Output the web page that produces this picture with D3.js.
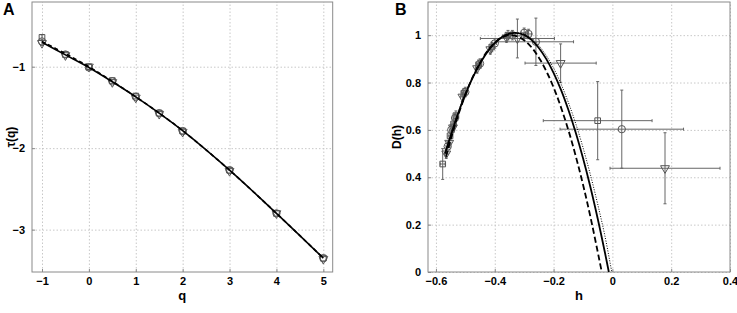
<!DOCTYPE html>
<html>
<head>
<meta charset="utf-8">
<script src="https://cdn.jsdelivr.net/npm/d3@7"></script>
<style>
  body { margin: 0; background: #fff; }
  svg { font-family: "Liberation Sans", Arial, sans-serif; }
  .tick text { font-weight: bold; font-size: 11px; fill: #000; }
  .grid line { stroke: #c8c8c8; stroke-dasharray: 1.5,2; }
  .frame { fill: none; stroke: #8a8a8a; stroke-width: 1; }
</style>
</head>
<body>
<svg width="737" height="313"></svg>
<script>
// ---- panel A: tau(q) ----
var qVals = [-1, -0.5, 0, 0.5, 1, 1.5, 2, 3, 4, 5];
var tauSquares = [-0.64, -0.85, -1.00, -1.17, -1.36, -1.57, -1.79, -2.27, -2.80, -3.35];
var tauCircles = [-0.69, -0.85, -1.01, -1.18, -1.37, -1.57, -1.79, -2.27, -2.80, -3.35];
var tauTriangles = [-0.71, -0.86, -1.00, -1.19, -1.38, -1.58, -1.80, -2.28, -2.80, -3.36];
var tauFitSolid = [-0.70, -0.855, -1.01, -1.185, -1.37, -1.57, -1.785, -2.27, -2.80, -3.35];
var tauFitDashed = [-0.69, -0.84, -1.00, -1.18, -1.37, -1.57, -1.785, -2.27, -2.80, -3.35];
var qTicks = [-1, 0, 1, 2, 3, 4, 5];
var tauTicks = [-3, -2, -1];

// ---- panel B: D(h) ----
var sqH = [-0.577, -0.552, -0.540, -0.532, -0.505, -0.455, -0.410, -0.355, -0.050];
var sqD = [0.456, 0.575, 0.625, 0.660, 0.755, 0.875, 0.950, 1.000, 0.639];
var sqErrH = [0.008, 0.006, 0.006, 0.006, 0.006, 0.006, 0.008, 0.01, 0.185];
var sqErrD = [0.065, 0.02, 0.02, 0.02, 0.02, 0.02, 0.02, 0.02, 0.165];

var ciH = [-0.560, -0.548, -0.535, -0.500, -0.450, -0.400, -0.340, -0.300, -0.285, -0.260, 0.032];
var ciD = [0.530, 0.600, 0.650, 0.760, 0.880, 0.965, 1.000, 1.010, 1.005, 0.972, 0.603];
var ciErrH = [0.006, 0.006, 0.006, 0.006, 0.006, 0.006, 0.008, 0.01, 0.01, 0.128, 0.21];
var ciErrD = [0.02, 0.02, 0.02, 0.02, 0.02, 0.02, 0.02, 0.02, 0.02, 0.10, 0.165];

var trH = [-0.565, -0.555, -0.542, -0.510, -0.460, -0.415, -0.360, -0.323, -0.176, 0.179];
var trD = [0.500, 0.545, 0.610, 0.740, 0.860, 0.940, 0.990, 0.986, 0.882, 0.438];
var trErrH = [0.006, 0.006, 0.006, 0.006, 0.006, 0.006, 0.008, 0.126, 0.121, 0.187];
var trErrD = [0.02, 0.02, 0.02, 0.02, 0.02, 0.02, 0.02, 0.082, 0.081, 0.15];

// fitted spectra
var fitSolidH = [-0.569, -0.55, -0.525, -0.5, -0.475, -0.45, -0.425, -0.4, -0.375, -0.35, -0.33, -0.3, -0.275, -0.25, -0.225, -0.2, -0.175, -0.15, -0.125, -0.1, -0.075, -0.05, -0.025, -0.012];
var fitSolidD = [0.500, 0.574, 0.668, 0.750, 0.821, 0.880, 0.929, 0.966, 0.992, 1.006, 1.010, 1.001, 0.980, 0.946, 0.900, 0.841, 0.770, 0.686, 0.590, 0.481, 0.360, 0.226, 0.080, 0.000];
var fitDashH = [-0.566, -0.55, -0.525, -0.5, -0.475, -0.45, -0.425, -0.4, -0.375, -0.345, -0.32, -0.295, -0.27, -0.245, -0.22, -0.195, -0.17, -0.145, -0.12, -0.095, -0.07, -0.045, -0.036];
var fitDashD = [0.487, 0.559, 0.660, 0.748, 0.823, 0.884, 0.933, 0.968, 0.991, 1.000, 0.993, 0.974, 0.941, 0.895, 0.836, 0.764, 0.678, 0.580, 0.468, 0.344, 0.206, 0.055, 0.000];
var fitDotH = [-0.568, -0.55, -0.525, -0.5, -0.475, -0.45, -0.425, -0.4, -0.375, -0.35, -0.325, -0.3, -0.275, -0.25, -0.225, -0.2, -0.175, -0.15, -0.125, -0.1, -0.075, -0.05, -0.025, -0.002];
var fitDotD = [0.505, 0.578, 0.672, 0.754, 0.825, 0.884, 0.932, 0.968, 0.994, 1.007, 1.010, 1.004, 0.986, 0.956, 0.914, 0.861, 0.795, 0.717, 0.628, 0.526, 0.412, 0.287, 0.150, 0.000];
var hTicks = [-0.6, -0.4, -0.2, 0, 0.2, 0.4];
var dTicks = [0, 0.2, 0.4, 0.6, 0.8, 1];

var svg = d3.select("svg");
var markerColor = "#555";

function fmt(d) { return d3.format("")(d).replace("-", "\u2212"); }

function drawPanel(opt) {
  var x = d3.scaleLinear().domain(opt.xDomain).range([opt.left, opt.right]);
  var y = d3.scaleLinear().domain(opt.yDomain).range([opt.bottom, opt.top]);
  var g = svg.append("g");

  // grid
  g.append("g").attr("class", "grid")
    .attr("transform", "translate(0," + opt.bottom + ")")
    .call(d3.axisBottom(x).tickValues(opt.xTicks).tickSize(-(opt.bottom - opt.top)).tickFormat(""))
    .call(s => s.select(".domain").remove());
  g.append("g").attr("class", "grid")
    .attr("transform", "translate(" + opt.left + ",0)")
    .call(d3.axisLeft(y).tickValues(opt.yTicks).tickSize(-(opt.right - opt.left)).tickFormat(""))
    .call(s => s.select(".domain").remove());

  // axes (ticks inward)
  g.append("g")
    .attr("transform", "translate(0," + opt.bottom + ")")
    .call(d3.axisBottom(x).tickValues(opt.xTicks).tickSize(-3).tickPadding(5).tickFormat(fmt))
    .call(s => s.select(".domain").remove())
    .call(s => s.selectAll(".tick line").attr("stroke", "#8a8a8a"));
  g.append("g")
    .attr("transform", "translate(" + opt.left + ",0)")
    .call(d3.axisLeft(y).tickValues(opt.yTicks).tickSize(-3).tickPadding(7).tickFormat(fmt))
    .call(s => s.select(".domain").remove())
    .call(s => s.selectAll(".tick line").attr("stroke", "#8a8a8a"));

  g.append("rect").attr("class", "frame")
    .attr("x", opt.left).attr("y", opt.top)
    .attr("width", opt.right - opt.left).attr("height", opt.bottom - opt.top);

  // labels
  g.append("text").attr("x", (opt.left + opt.right) / 2).attr("y", 300)
    .attr("text-anchor", "middle").attr("font-weight", "bold").attr("font-size", 13).text(opt.xLabel);
  g.append("text").attr("transform", "translate(" + opt.yLabelX + "," + ((opt.top + opt.bottom) / 2) + ") rotate(-90)")
    .attr("text-anchor", "middle").attr("font-weight", "bold").attr("font-size", 12).text(opt.yLabel);
  g.append("text").attr("x", opt.letterX).attr("y", 15)
    .attr("font-weight", "bold").attr("font-size", 16).text(opt.letter);

  return { x: x, y: y, g: g };
}

function drawLine(p, xs, ys, dash, width) {
  var pts = xs.map((v, i) => [v, ys[i]]);
  p.g.append("path")
    .attr("d", d3.line().x(d => p.x(d[0])).y(d => p.y(d[1])).curve(d3.curveCatmullRom)(pts))
    .attr("fill", "none").attr("stroke", "#000")
    .attr("stroke-width", width)
    .attr("stroke-dasharray", dash);
}

function drawMarkers(p, xs, ys, shape, errX, errY) {
  var pts = xs.map((v, i) => ({ x: v, y: ys[i], ex: errX ? errX[i] : 0, ey: errY ? errY[i] : 0 }));
  var eg = p.g.append("g").attr("stroke", "#666").attr("stroke-width", 1);
  pts.forEach(function (d) {
    if (d.ex > 0) {
      eg.append("line").attr("x1", p.x(d.x - d.ex)).attr("x2", p.x(d.x + d.ex)).attr("y1", p.y(d.y)).attr("y2", p.y(d.y));
      [d.x - d.ex, d.x + d.ex].forEach(function (e) {
        eg.append("line").attr("x1", p.x(e)).attr("x2", p.x(e)).attr("y1", p.y(d.y) - 1.5).attr("y2", p.y(d.y) + 1.5);
      });
    }
    if (d.ey > 0) {
      eg.append("line").attr("x1", p.x(d.x)).attr("x2", p.x(d.x)).attr("y1", p.y(d.y - d.ey)).attr("y2", p.y(d.y + d.ey));
      [d.y - d.ey, d.y + d.ey].forEach(function (e) {
        eg.append("line").attr("x1", p.x(d.x) - 1.5).attr("x2", p.x(d.x) + 1.5).attr("y1", p.y(e)).attr("y2", p.y(e));
      });
    }
  });
  var sym = shape === "square" ? d3.symbolSquare : shape === "circle" ? d3.symbolCircle : d3.symbolTriangle;
  var size = shape === "square" ? 32 : shape === "circle" ? 42 : 34;
  p.g.append("g").selectAll("path").data(pts).join("path")
    .attr("d", d3.symbol().type(sym).size(size))
    .attr("transform", d => "translate(" + p.x(d.x) + "," + p.y(d.y) + ")" + (shape === "triangle" ? " rotate(180)" : ""))
    .attr("fill", "none").attr("stroke", markerColor).attr("stroke-width", 1);
}

// panel A
var pA = drawPanel({
  left: 32, right: 332.7, top: 2, bottom: 272,
  xDomain: [-1.213, 5.2], yDomain: [-3.52, -0.206],
  xTicks: qTicks, yTicks: tauTicks,
  xLabel: "q", yLabel: "\u03c4(q)", yLabelX: 15, letter: "A", letterX: 3
});
drawMarkers(pA, qVals, tauSquares, "square", null, [0.03, 0, 0, 0, 0, 0, 0, 0, 0, 0]);
drawMarkers(pA, qVals, tauCircles, "circle");
drawMarkers(pA, qVals, tauTriangles, "triangle", null, [0.03, 0, 0, 0, 0, 0, 0, 0, 0, 0]);
drawLine(pA, qVals, tauFitDashed, "4,3", 1.6);
drawLine(pA, qVals, tauFitSolid, null, 1.6);

// panel B
var pB = drawPanel({
  left: 428, right: 730, top: 2, bottom: 272,
  xDomain: [-0.627, 0.4], yDomain: [0, 1.14],
  xTicks: hTicks, yTicks: dTicks,
  xLabel: "h", yLabel: "D(h)", yLabelX: 401, letter: "B", letterX: 395
});
drawMarkers(pB, sqH, sqD, "square", sqErrH, sqErrD);
drawMarkers(pB, ciH, ciD, "circle", ciErrH, ciErrD);
drawMarkers(pB, trH, trD, "triangle", trErrH, trErrD);
drawLine(pB, fitDotH, fitDotD, "1,1.5", 1);
drawLine(pB, fitDashH, fitDashD, "6,3", 1.8);
drawLine(pB, fitSolidH, fitSolidD, null, 1.8);
</script>
</body>
</html>
